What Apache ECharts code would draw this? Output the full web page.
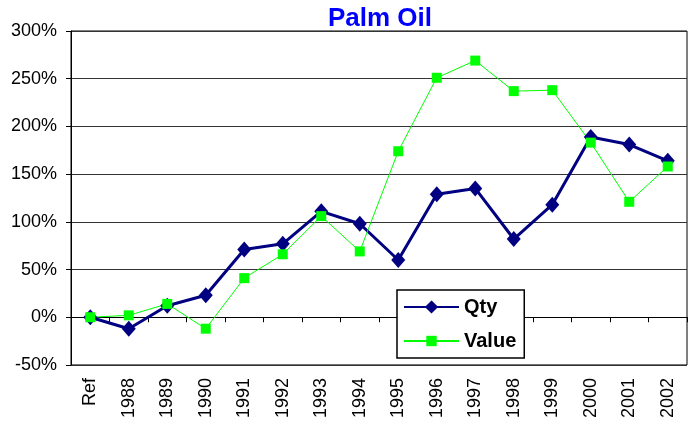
<!DOCTYPE html>
<html>
<head>
<meta charset="utf-8">
<script src="https://cdn.jsdelivr.net/npm/echarts@6/dist/echarts.min.js"></script>
<style>
  html, body { margin: 0; padding: 0; background: #fff; }
  #chart { width: 693px; height: 421px; }
</style>
</head>
<body>
<div id="chart"></div>
<script>
  // categories and series values (percent change vs reference)
  var years = ['Ref', '1988', '1989', '1990', '1991', '1992', '1993', '1994',
    '1995', '1996', '1997', '1998', '1999', '2000', '2001', '2002']
  var qty = [0, -12, 12, 23, 71, 77, 111, 98, 60, 129, 135, 82, 118, 189, 181, 164]
  var value = [0, 2, 14, -12, 41, 66, 106, 69, 174, 251, 269, 237, 238, 183, 121, 158]

  var font = 'Liberation Sans, Arial, sans-serif'
  var myChart = echarts.init(document.getElementById('chart'))
  myChart.setOption({
    backgroundColor: '#fff',
    animation: false,
    title: {
      text: 'Palm Oil',
      left: 328,
      top: 6,
      padding: 0,
      textStyle: { color: '#0000ff', fontSize: 26, fontWeight: 'bold', fontFamily: font }
    },
    legend: {
      orient: 'vertical',
      left: 397,
      top: 290,
      padding: [7, 8, 7, 6],
      itemGap: 14,
      itemWidth: 55,
      itemHeight: 13,
      backgroundColor: '#fff',
      borderColor: '#000',
      borderWidth: 1.5,
      borderRadius: 0,
      textStyle: { color: '#000', fontSize: 20, fontWeight: 'bold', fontFamily: font, lineHeight: 20 },
      data: [
        { name: 'Qty', itemStyle: { borderColor: '#000080', borderWidth: 2 } },
        { name: 'Value' }
      ]
    },
    grid: {
      left: 71,
      top: 31,
      right: 6,
      bottom: 51,
      show: true,
      borderColor: '#000',
      borderWidth: 1
    },
    xAxis: [
      {
        type: 'category',
        data: years,
        boundaryGap: true,
        axisLine: { onZero: true, lineStyle: { color: '#000', width: 1 } },
        axisTick: { show: true, length: 5, lineStyle: { color: '#000' } },
        axisLabel: { show: false },
        splitLine: { show: false }
      },
      {
        type: 'category',
        data: years,
        position: 'bottom',
        boundaryGap: true,
        axisLine: { show: false, onZero: false },
        axisTick: { show: false },
        axisLabel: { rotate: 90, margin: 13, color: '#000', fontSize: 18, fontFamily: font, interval: 0 },
        splitLine: { show: false }
      }
    ],
    yAxis: {
      type: 'value',
      min: -50,
      max: 300,
      interval: 50,
      axisLine: { show: true, lineStyle: { color: '#000' } },
      axisTick: { show: true, length: 5, lineStyle: { color: '#000' } },
      axisLabel: { formatter: '{value}%', margin: 14, color: '#000', fontSize: 18, fontFamily: font },
      splitLine: { show: true, lineStyle: { color: '#333', width: 1 } }
    },
    series: [
      {
        name: 'Qty',
        type: 'line',
        data: qty,
        symbol: 'diamond',
        symbolSize: [14, 16],
        lineStyle: { color: '#000080', width: 3 },
        itemStyle: { color: '#000080' }
      },
      {
        name: 'Value',
        type: 'line',
        data: value,
        symbol: 'rect',
        symbolSize: 10,
        lineStyle: { color: '#00ff00', width: 1 },
        itemStyle: { color: '#00ff00' }
      }
    ]
  })
</script>
</body>
</html>
